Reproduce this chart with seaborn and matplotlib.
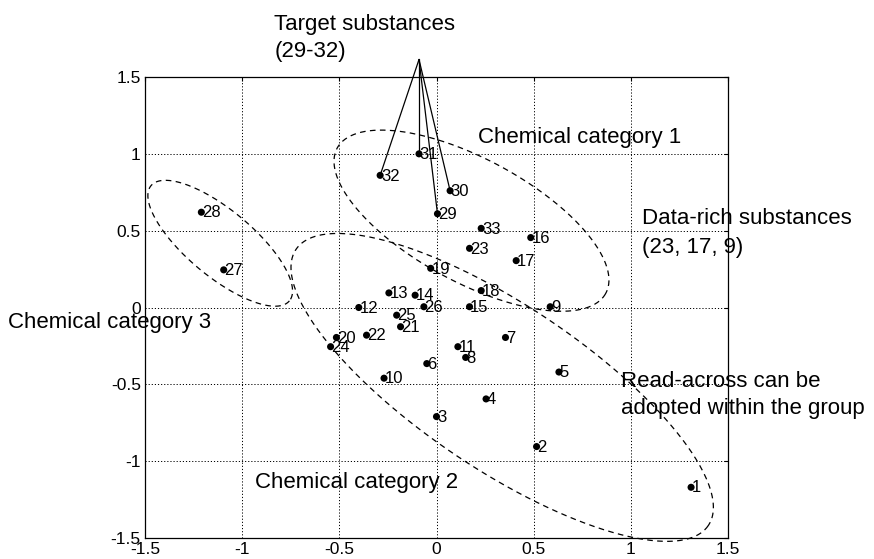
import numpy as np
import pandas as pd
import matplotlib
matplotlib.use("Agg")
import matplotlib.pyplot as plt
import seaborn as sns

# ---------------- data ----------------
substance_ids = list(range(1, 34))
score_x = [1.31, 0.515, 0.0, 0.255, 0.63, -0.05, 0.355, 0.15, 0.585, -0.27,
           0.11, -0.40, -0.245, -0.11, 0.17, 0.485, 0.41, 0.23, -0.03, -0.515,
           -0.185, -0.36, 0.17, -0.545, -0.205, -0.065, -1.095, -1.21, 0.005, 0.07,
           -0.09, -0.29, 0.23]
score_y = [-1.17, -0.905, -0.71, -0.595, -0.42, -0.365, -0.195, -0.325, 0.005, -0.46,
           -0.255, 0.0, 0.095, 0.08, 0.005, 0.455, 0.305, 0.11, 0.255, -0.195,
           -0.125, -0.18, 0.385, -0.255, -0.05, 0.005, 0.245, 0.62, 0.61, 0.76,
           1.0, 0.86, 0.515]
target_ids = [29, 30, 31, 32]
target_hub = (-0.09, 1.614)

tick_values = [-1.5, -1, -0.5, 0, 0.5, 1, 1.5]
tick_labels = ["-1.5", "-1", "-0.5", "0", "0.5", "1", "1.5"]

# category ellipses: centre and two conjugate semi-axis vectors (data units)
ellipse_centres = [(0.180, 0.565), (0.338, -0.520), (-1.113, 0.418)]
ellipse_axis_a = [(0.690, -0.475), (1.060, -0.900), (0.356, -0.375)]
ellipse_axis_b = [(-0.156, -0.349), (-0.240, -0.440), (-0.109, -0.165)]

annotations = [
    ("Target substances", -0.835, 1.808),
    ("(29-32)", -0.835, 1.633),
    ("Chemical category 1", 0.216, 1.073),
    ("Data-rich substances", 1.057, 0.545),
    ("(23, 17, 9)", 1.057, 0.356),
    ("Chemical category 3", -2.206, -0.132),
    ("Chemical category 2", -0.933, -1.174),
    ("Read-across can be", 0.948, -0.516),
    ("adopted within the group", 0.948, -0.692),
]

# ---------------- figure ----------------
sns.set_theme(style="white")
plt.rcParams['font.family'] = ['Liberation Sans', 'DejaVu Sans']

fig = plt.figure(figsize=(8.74, 5.59), dpi=100)
ax = fig.add_axes([145 / 874, 1 - 538 / 559, (728 - 145) / 874, (538 - 77) / 559])

df = pd.DataFrame({"id": substance_ids, "x": score_x, "y": score_y})

ax.set_xlim(-1.5, 1.5)
ax.set_ylim(-1.5, 1.5)
ax.set_xticks(tick_values)
ax.set_yticks(tick_values)
ax.set_xticklabels(tick_labels)
ax.set_yticklabels(tick_labels)
ax.grid(True, color="black", linestyle=(0, (1.2, 2.0)), linewidth=0.7)
ax.set_axisbelow(True)

for sp in ax.spines.values():
    sp.set_color("black")
    sp.set_linewidth(0.9)
ax.tick_params(direction="in", length=3, width=0.8, colors="black",
               top=True, right=True, labelsize=12.5, pad=3)

# ellipses
t = np.linspace(0, 2 * np.pi, 400)
for (cx, cy), (ax_x, ax_y), (bx, by) in zip(ellipse_centres, ellipse_axis_a, ellipse_axis_b):
    ex = cx + ax_x * np.cos(t) + bx * np.sin(t)
    ey = cy + ax_y * np.cos(t) + by * np.sin(t)
    ax.plot(ex, ey, color="black", linestyle=(0, (4.5, 3.5)), linewidth=0.9,
            clip_on=False, zorder=2)

# target pointer lines
for tid in target_ids:
    row = df[df["id"] == tid].iloc[0]
    ax.plot([target_hub[0], row["x"]], [target_hub[1], row["y"]],
            color="black", linewidth=0.9, clip_on=False, zorder=3)

sns.scatterplot(data=df, x="x", y="y", ax=ax, color="black", s=26,
                edgecolor="none", zorder=4, legend=False)
ax.set_xlabel("")
ax.set_ylabel("")

for _, row in df.iterrows():
    ax.annotate(str(int(row["id"])), (row["x"], row["y"]), xytext=(0.5, -0.5),
                textcoords="offset points", ha="left", va="center",
                fontsize=12, color="black", zorder=5)

for txt, tx, ty in annotations:
    ax.text(tx, ty, txt, fontsize=16, color="black", ha="left", va="baseline",
            clip_on=False)

fig.savefig("out.png", dpi=100)
